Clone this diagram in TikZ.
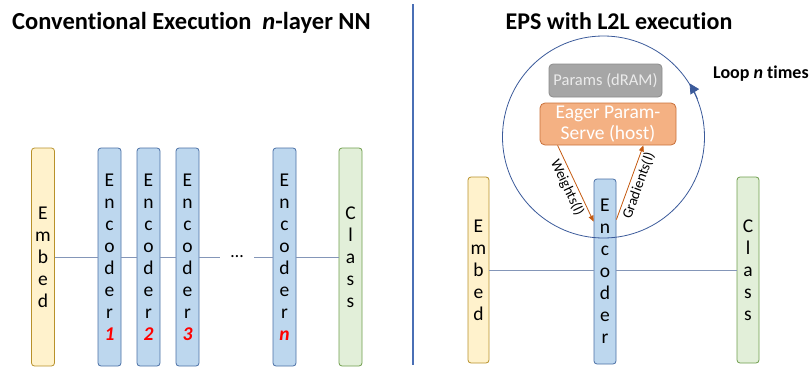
\documentclass[tikz,border=0pt]{standalone}
\usepackage{fontspec}
\setmainfont{Carlito}[Ligatures=NoCommon]
\usetikzlibrary{arrows.meta}
\definecolor{embf}{HTML}{FFF2CC}
\definecolor{embd}{HTML}{B8912A}
\definecolor{encf}{HTML}{BDD7EE}
\definecolor{encd}{HTML}{4A6FA5}
\definecolor{clsf}{HTML}{E2EFD9}
\definecolor{clsd}{HTML}{6F9E4C}
\definecolor{connc}{HTML}{8496B8}
\definecolor{loopc}{HTML}{3B5A9A}
\definecolor{divc}{HTML}{4A6FB5}
\definecolor{eagerf}{HTML}{F4B183}
\definecolor{eagerd}{HTML}{C8703A}
\definecolor{orar}{HTML}{C55A11}
\definecolor{paramsf}{HTML}{A6A6A6}
\definecolor{paramsd}{HTML}{8C8C8C}
\definecolor{paramst}{HTML}{EBEBEB}
\begin{document}
\begin{tikzpicture}[x=1pt,y=1pt,
  bar/.style={draw, rounded corners=3pt, line width=0.8pt, minimum width=23pt,
    inner sep=0pt, align=center, font=\fontsize{19.5}{22}\selectfont},
  embbox/.style={bar, fill=embf, draw=embd},
  encbox/.style={bar, fill=encf, draw=encd},
  clsbox/.style={bar, fill=clsf, draw=clsd},
  conn/.style={draw=connc, line width=0.8pt},
  orarrow/.style={draw=orar, line width=0.8pt, -{Triangle[length=6pt,width=5pt]}},
  arlabel/.style={sloped, below, inner sep=2.5pt, font=\fontsize{14.5}{16}\selectfont}
]
\useasboundingbox (0,0) rectangle (812,368);

% titles
\node[anchor=base west, inner sep=0, font=\fontsize{24.5}{28}\selectfont\bfseries] (t1) at (12,339)
  {Conventional Execution\ \ \textit{n}-layer NN};
\node[anchor=base, inner sep=0, font=\fontsize{24}{28}\selectfont\bfseries] (t2) at (619,339)
  {EPS with L2L execution};
\node[anchor=base west, inner sep=0, font=\fontsize{18}{22}\selectfont\bfseries] (t3) at (713,290)
  {Loop \textit{n} times};

% divider
\coordinate (d1) at (413,364);
\coordinate (d2) at (413,3);
\draw[divc, line width=1.1pt] (d1) -- (d2);

% left side
\node[embbox, minimum height=218pt] (embL) at (43,111) {E\\m\\b\\e\\d};
\node[encbox, minimum height=218pt] (enc1) at (109.5,111)
  {E\\n\\c\\o\\d\\e\\r\\{\color{red}\bfseries\itshape 1}};
\node[encbox, minimum height=218pt] (enc2) at (148.5,111)
  {E\\n\\c\\o\\d\\e\\r\\{\color{red}\bfseries\itshape 2}};
\node[encbox, minimum height=218pt] (enc3) at (187.5,111)
  {E\\n\\c\\o\\d\\e\\r\\{\color{red}\bfseries\itshape 3}};
\node[encbox, minimum height=218pt] (encn) at (284.5,111)
  {E\\n\\c\\o\\d\\e\\r\\{\color{red}\bfseries\itshape n}};
\node[clsbox, minimum height=218pt] (clsL) at (350.5,111) {C\\l\\a\\s\\s};
\node[inner sep=0, minimum width=34pt, minimum height=10pt, font=\fontsize{18}{22}\selectfont] (dots) at (237,111) {\dots};

\draw[conn] (embL.east) -- (enc1.west);
\draw[conn] (enc1.east) -- (enc2.west);
\draw[conn] (enc2.east) -- (enc3.west);
\draw[conn] (enc3.east) -- (enc3.east -| dots.west);
\draw[conn] (encn.west -| dots.east) -- (encn.west);
\draw[conn] (encn.east) -- (clsL.west);

% right side
\node[embbox, minimum width=21pt, minimum height=186pt] (embR) at (478.5,98) {E\\m\\b\\e\\d};
\node[encbox, minimum width=22pt, minimum height=185pt] (encR) at (605,96.5) {E\\n\\c\\o\\d\\e\\r};
\node[clsbox, minimum width=22pt, minimum height=186pt] (clsR) at (748,98) {C\\l\\a\\s\\s};
\draw[conn] (embR.east) -- (embR.east -| encR.west);
\draw[conn] (clsR.west -| encR.east) -- (clsR.west);

\node[fill=paramsf, draw=paramsd, line width=0.8pt, rounded corners=4pt, minimum width=113pt,
  minimum height=33pt, inner sep=0, text=paramst, font=\fontsize{16.5}{18}\selectfont]
  (params) at (605.5,287.5) {Params (dRAM)};
\node[fill=eagerf, draw=eagerd, line width=0.8pt, rounded corners=5pt, minimum width=136pt,
  minimum height=42pt, inner sep=0, text=white, align=center, font=\fontsize{19.5}{21}\selectfont]
  (eager) at (608,244) {Eager Param-\\Serve (host)};

\draw[orarrow] ([xshift=18pt]eager.south west) -- node[arlabel] {Weights(l)} ([yshift=-43pt]encR.north west);
\draw[orarrow] ([yshift=-41pt]encR.north east) -- node[arlabel] {Gradients(l)} ([xshift=-33pt]eager.south east);

% loop circle
\node[draw=loopc, circle, minimum size=202pt, inner sep=0, line width=0.8pt] (loop) at (603.5,231) {};
\draw[loopc, line width=0.8pt, -{Triangle[length=10pt,width=10pt]}]
  (loop.22) arc[start angle=22, end angle=32, radius=101pt];
\end{tikzpicture}
\end{document}
